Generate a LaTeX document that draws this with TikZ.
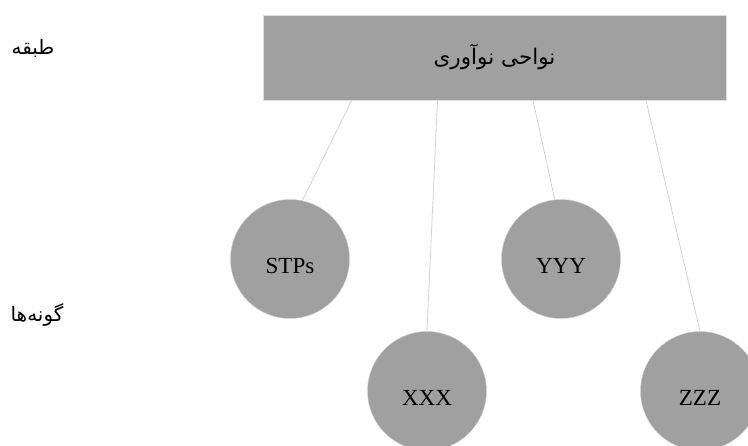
\documentclass[tikz,border=0pt]{standalone}
\usepackage{fontspec}
\setmainfont{Liberation Serif}
\newfontfamily\farsifont[Script=Arabic]{DejaVu Sans}
\TeXXeTstate=1
\usetikzlibrary{calc}
\definecolor{boxgray}{HTML}{A0A0A0}
\definecolor{linkgray}{HTML}{D2D2D2}
\tikzset{
  classbox/.style={fill=boxgray,draw=black!12,minimum width=463pt,minimum height=85pt,inner sep=0pt},
  typenode/.style={circle,fill=boxgray,draw=black!18,minimum size=119pt,inner sep=0pt,
    font=\fontsize{23}{26}\selectfont,text height=30pt,text depth=0pt},
  sidelabel/.style={font=\farsifont\fontsize{20}{24}\selectfont},
  link/.style={draw=linkgray,line width=0.8pt}
}
\begin{document}
\begin{tikzpicture}[x=1pt,y=-1pt]
        \useasboundingbox(0,0)rectangle(748,446);
        \node[classbox](top)at(494.5,57.5){\farsifont\fontsize{21.5}{26}\selectfont\raisebox{4pt}{\beginR نواحی نوآوری\endR}};
        \node[sidelabel](layer)at(33,48){\beginR طبقه\endR};
        \node[sidelabel](kinds)at(37,315){\beginR گونه‌ها\endR};
        \node[typenode](stps)at(290,259){STPs};
        \node[typenode](xxx)at(427,391){XXX};
        \node[typenode](yyy)at(561,259){YYY};
        \node[typenode](zzz)at(700,391){ZZZ};
        \coordinate(t1)at($(top.south west)!0.192!(top.south east)$);
        \coordinate(t2)at($(top.south west)!0.377!(top.south east)$);
        \coordinate(t3)at($(top.south west)!0.583!(top.south east)$);
        \coordinate(t4)at($(top.south west)!0.827!(top.south east)$);
        \draw[link](t1)--(stps.78);
        \draw[link](t2)--(xxx.90);
        \draw[link](t3)--(yyy.96);
        \draw[link](t4)--(zzz.90);
    \end{tikzpicture}
\end{document}
